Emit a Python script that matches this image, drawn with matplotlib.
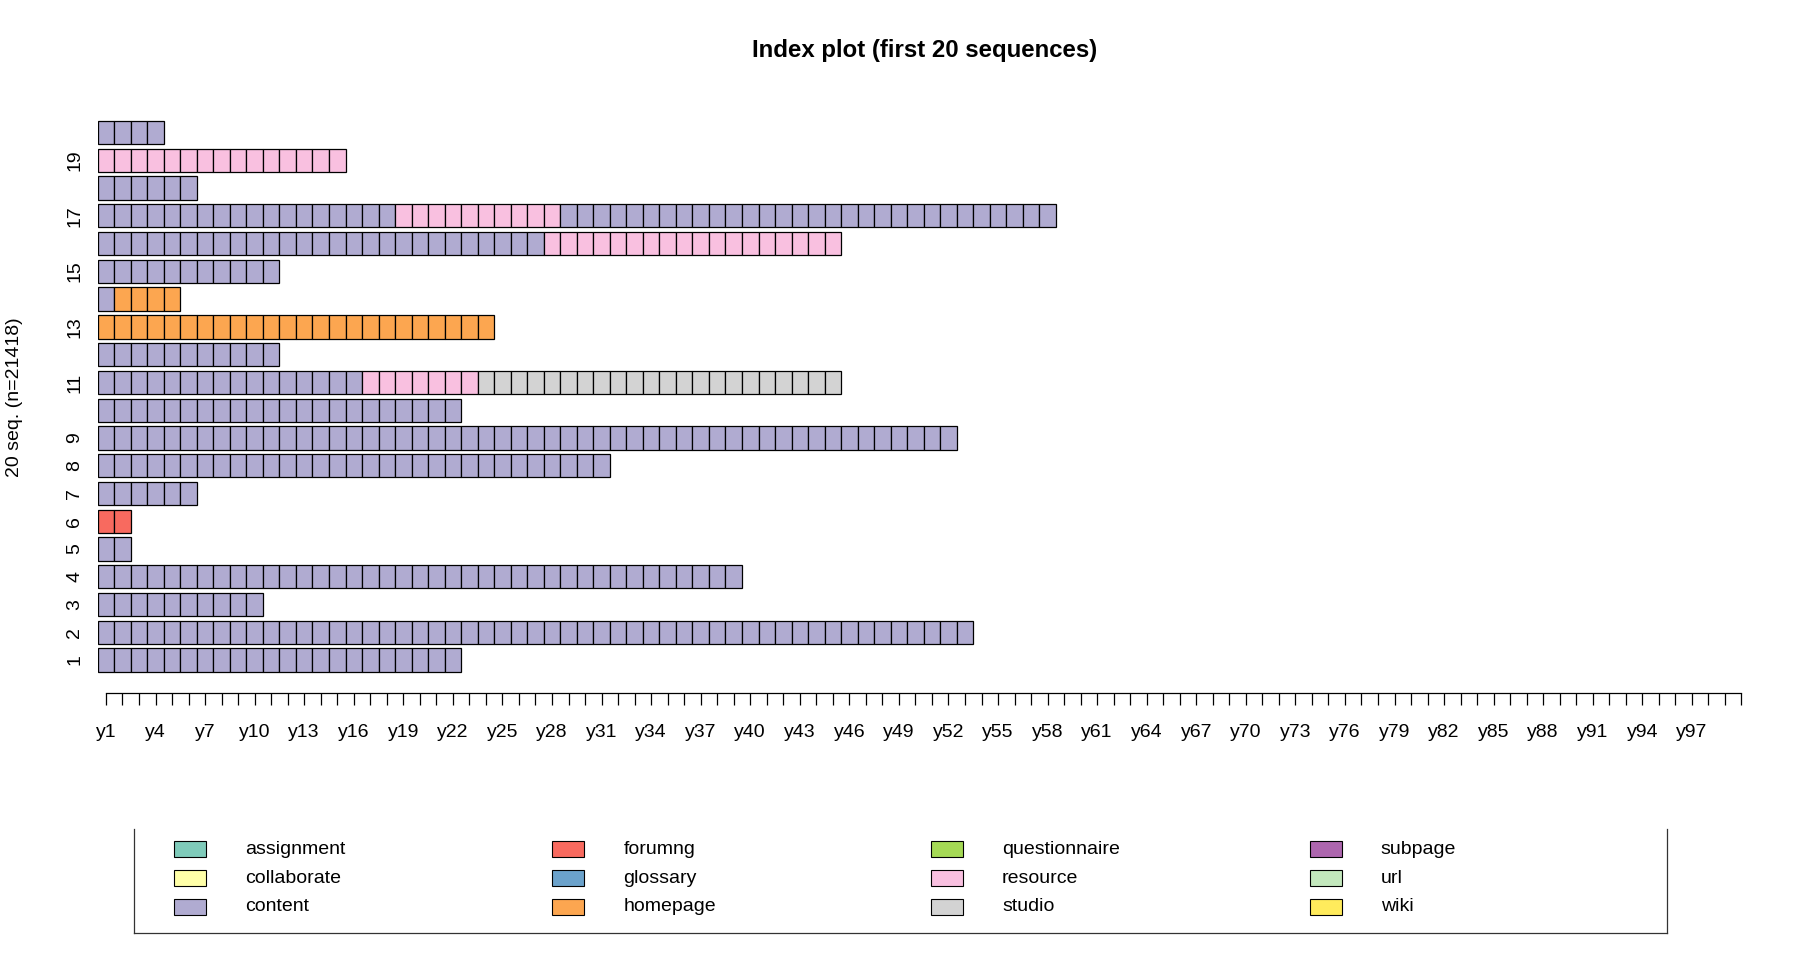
import matplotlib
matplotlib.use("Agg")
import matplotlib.pyplot as plt
from matplotlib.patches import Rectangle
import numpy as np

plt.rcParams['font.family'] = ['Liberation Sans', 'DejaVu Sans']

# states and their colours (Set3 as rendered in the reference)
states = ["assignment", "collaborate", "content", "forumng", "glossary", "homepage",
          "questionnaire", "resource", "studio", "subpage", "url", "wiki"]
state_colors = ["#7fcbba", "#ffffa8", "#b0abd1", "#f86a5f", "#6ba2cb", "#fca650",
                "#a5d955", "#f9c0e0", "#d3d3d3", "#ad66ae", "#c3e8bd", "#ffeb5c"]

# first 20 sequences as (state, run length)
seq_runs = [
    [("content", 22)],
    [("content", 53)],
    [("content", 10)],
    [("content", 39)],
    [("content", 2)],
    [("forumng", 2)],
    [("content", 6)],
    [("content", 31)],
    [("content", 52)],
    [("content", 22)],
    [("content", 16), ("resource", 7), ("studio", 22)],
    [("content", 11)],
    [("homepage", 24)],
    [("content", 1), ("homepage", 4)],
    [("content", 11)],
    [("content", 27), ("resource", 18)],
    [("content", 18), ("resource", 10), ("content", 30)],
    [("content", 6)],
    [("resource", 15)],
    [("content", 4)],
]

n_positions = 100
x_labels = ["y%d" % (k + 1) for k in range(n_positions)]
x_label_shown = ["y%d" % k for k in range(1, 98, 3)]
y_label_rows = [1, 2, 3, 4, 5, 6, 7, 8, 9, 11, 13, 15, 17, 19]

color_of = dict(zip(states, state_colors))

W, H = 1800, 960
fig = plt.figure(figsize=(18, 9.6), dpi=100)

# main index plot: x in cell units, y in row units
x0_px, cell_px = 97.7, 16.52
row1_px, row_px = 660.0, 27.76
ylo, yhi = 0.3, 20.7
ax_left = x0_px / W
ax_w = n_positions * cell_px / W
ax_bot_px = row1_px + (1 - ylo) * row_px
ax_top_px = row1_px - (yhi - 1) * row_px
ax = fig.add_axes([ax_left, 1 - ax_bot_px / H, ax_w, (ax_bot_px - ax_top_px) / H])
ax.set_xlim(0, n_positions)
ax.set_ylim(ylo, yhi)

for i, runs in enumerate(seq_runs):
    seq = []
    for st, n in runs:
        seq += [st] * n
    lefts = np.arange(len(seq))
    ax.barh(i + 1, 1, left=lefts, height=0.84,
            color=[color_of[s] for s in seq], edgecolor="black", linewidth=0.9)

for sp in ["top", "right", "left"]:
    ax.spines[sp].set_visible(False)
ax.spines["bottom"].set_bounds(0.5, n_positions - 0.5)
ax.spines["bottom"].set_position(("outward", (693 - ax_bot_px) * 0.72))
ax.spines["bottom"].set_linewidth(0.9)
ax.set_xticks(np.arange(n_positions) + 0.5)
ax.set_xticklabels([lab if lab in x_label_shown else "" for lab in x_labels], fontsize=14)
ax.tick_params(axis="x", direction="out", length=8.6, width=0.9, pad=13.5)
ax.set_yticks([])
for r in y_label_rows:
    ax.text((75 - x0_px) / cell_px, r, str(r), rotation=90, ha="center", va="center",
            fontsize=14, clip_on=False)

fig.text(15 / W, 1 - 397 / H, "20 seq. (n=21418)", rotation=90, ha="center", va="center",
         fontsize=14)
fig.text(924.5 / W, 1 - 51 / H, "Index plot (first 20 sequences)", ha="center", va="center",
         fontsize=17.3, fontweight="bold")

# legend panel (top border clipped as in the reference)
lx0, lx1, ly0, ly1 = 134.4, 1666.8, 829.4, 932.7
lax = fig.add_axes([lx0 / W, 1 - ly1 / H, (lx1 - lx0) / W, (ly1 - ly0) / H])
lax.set_xlim(lx0, lx1)
lax.set_ylim(ly1, ly0)
lax.set_xticks([])
lax.set_yticks([])
lax.spines["top"].set_visible(False)
for sp in ["left", "right", "bottom"]:
    lax.spines[sp].set_linewidth(0.9)
    lax.spines[sp].set_color("#333333")
for j, (st, c) in enumerate(zip(states, state_colors)):
    col, row = j // 3, j % 3
    sx = 173.5 + col * 378.7
    sy = 849.4 + row * 28.7
    lax.add_patch(Rectangle((sx, sy - 8), 32, 16, facecolor=c, edgecolor="black", linewidth=0.8))
    lax.text(sx + 71.2, sy, st, ha="left", va="center", fontsize=14)

fig.savefig("out.png", dpi=100)
